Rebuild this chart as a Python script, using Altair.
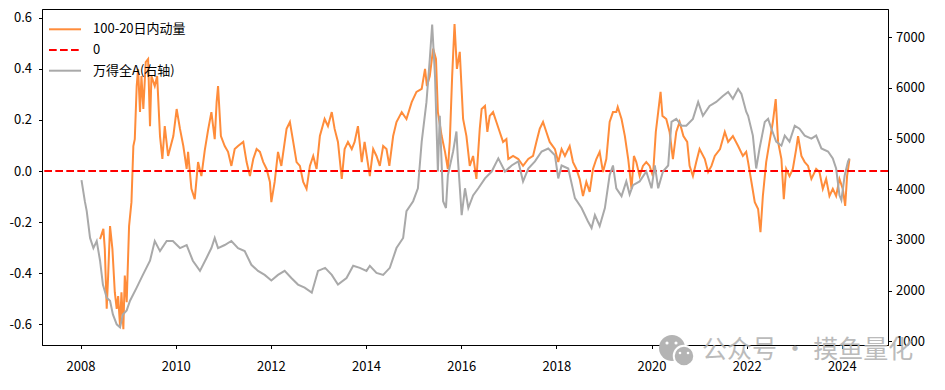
import altair as alt
import pandas as pd

FONT = "Noto Sans CJK SC"
ORANGE = "#ff8c3a"
GRAY = "#a9a9a9"
WM = "#b4b4b4"

# 万得全A index (right axis), decimal year
idx_year = [
    2008.02, 2008.09, 2008.13, 2008.20, 2008.27, 2008.34, 2008.41, 2008.47, 2008.55, 2008.62, 2008.68, 2008.76, 2008.83, 2008.89, 2008.97,
    2009.04, 2009.18, 2009.31, 2009.46, 2009.56, 2009.67, 2009.81, 2009.94,
    2010.09, 2010.23, 2010.36, 2010.51, 2010.65, 2010.75, 2010.82, 2010.89,
    2011.03, 2011.17, 2011.31, 2011.45, 2011.59, 2011.73, 2011.87,
    2012.01, 2012.15, 2012.29, 2012.43, 2012.57, 2012.71, 2012.86, 2012.99,
    2013.14, 2013.28, 2013.41, 2013.59, 2013.73, 2013.87,
    2014.01, 2014.08, 2014.22, 2014.36, 2014.50, 2014.64, 2014.78, 2014.85, 2014.99,
    2015.09, 2015.17, 2015.27, 2015.34, 2015.39, 2015.45, 2015.51, 2015.55, 2015.62, 2015.68, 2015.72, 2015.83, 2015.90, 2015.93,
    2016.01, 2016.08, 2016.15, 2016.25, 2016.36, 2016.50, 2016.64, 2016.78, 2016.92,
    2017.06, 2017.20, 2017.30, 2017.41, 2017.55, 2017.69, 2017.83, 2017.97,
    2018.04, 2018.11, 2018.25, 2018.39, 2018.53, 2018.66, 2018.74, 2018.81, 2018.91,
    2019.02, 2019.12, 2019.19, 2019.26, 2019.37, 2019.47, 2019.54, 2019.61, 2019.75, 2019.89,
    2020.00, 2020.07, 2020.14, 2020.24, 2020.35, 2020.42, 2020.52, 2020.63, 2020.73, 2020.87, 2020.98,
    2021.08, 2021.22, 2021.36, 2021.50, 2021.61, 2021.71, 2021.82, 2021.89, 2021.99,
    2022.03, 2022.13, 2022.20, 2022.27, 2022.38, 2022.45, 2022.52, 2022.62, 2022.73, 2022.80, 2022.90,
    2023.01, 2023.11, 2023.22, 2023.36, 2023.46, 2023.57, 2023.71, 2023.81, 2023.88, 2023.95, 2023.99,
    2024.06, 2024.13, 2024.16,
]
idx_value = [
    4180, 3765, 3570, 3040, 2840, 2980, 2590, 2120, 1860, 1800, 1530, 1335, 1275, 1530, 1610,
    1800, 2060, 2310, 2590, 2980, 2780, 2980, 2980,
    2840, 2900, 2590, 2390, 2650, 2840, 3040, 2840,
    2900, 2980, 2840, 2780, 2510, 2390, 2310,
    2200, 2310, 2390, 2250, 2120, 2060, 1960, 2390,
    2450, 2310, 2120, 2250, 2490, 2450,
    2390, 2490, 2350, 2310, 2450, 2840, 3040, 3570, 3765,
    4020, 4940, 5720, 6570, 7250, 6230, 4350, 5450, 3765, 3630, 4275, 4745, 5140, 4610,
    3490, 4020, 3630, 3880, 4020, 4215, 4350, 4610, 4350,
    4470, 4550, 4155, 4410, 4550, 4745, 4805, 4670,
    4215, 4470, 4410, 3825, 3630, 3375, 3235, 3490, 3275,
    3630, 4280, 4470, 4020, 3865, 4155, 3900, 4080, 4155, 4350,
    4020, 4470, 4020, 4350, 4470, 5330, 5390, 5255, 5255, 5390, 5725,
    5450, 5645, 5725, 5840, 5920, 5785, 5980, 5880, 5530,
    5450, 5060, 4410, 4805, 5330, 5390, 5195, 4940, 4860, 5060, 4940,
    5255, 5195, 5060, 5000, 5060, 4805, 4745, 4610, 4410, 3880, 3785,
    4275, 4550, 4610,
]

# 100-20日内动量 (left axis), decimal year
mom_year = [
    2008.41, 2008.48, 2008.51, 2008.55, 2008.58, 2008.62, 2008.67, 2008.72, 2008.76, 2008.79, 2008.83, 2008.86, 2008.90, 2008.93, 2008.97,
    2009.02, 2009.07, 2009.11, 2009.14, 2009.18, 2009.21, 2009.25, 2009.28, 2009.32, 2009.37, 2009.42, 2009.46, 2009.49, 2009.56, 2009.61, 2009.67, 2009.72, 2009.77, 2009.84, 2009.95,
    2010.02, 2010.09, 2010.16, 2010.23, 2010.26, 2010.33, 2010.40, 2010.47, 2010.54, 2010.61, 2010.68, 2010.75, 2010.82, 2010.86, 2010.89, 2010.95,
    2011.03, 2011.10, 2011.17, 2011.24, 2011.31, 2011.42, 2011.49, 2011.56, 2011.63, 2011.70, 2011.77, 2011.84, 2011.91, 2011.98,
    2012.01, 2012.08, 2012.15, 2012.22, 2012.33, 2012.40, 2012.47, 2012.54, 2012.61, 2012.68, 2012.75, 2012.82, 2012.89, 2012.96,
    2013.03, 2013.13, 2013.20, 2013.28, 2013.34, 2013.41, 2013.49, 2013.55, 2013.62, 2013.70, 2013.76, 2013.83, 2013.91, 2013.97,
    2014.08, 2014.15, 2014.22, 2014.29, 2014.36, 2014.43, 2014.49, 2014.57, 2014.64, 2014.75, 2014.85, 2014.96,
    2015.06, 2015.17, 2015.24, 2015.28, 2015.34, 2015.41, 2015.47, 2015.51, 2015.59, 2015.66, 2015.72, 2015.76, 2015.81, 2015.86, 2015.91, 2015.97,
    2016.04, 2016.11, 2016.18, 2016.25, 2016.32, 2016.39, 2016.43, 2016.50, 2016.55, 2016.60, 2016.67, 2016.74, 2016.81, 2016.88, 2016.95, 2016.99,
    2017.09, 2017.20, 2017.30, 2017.41, 2017.51, 2017.58, 2017.65, 2017.72, 2017.79, 2017.86, 2017.97,
    2018.04, 2018.11, 2018.18, 2018.28, 2018.35, 2018.42, 2018.49, 2018.56, 2018.63, 2018.70, 2018.77, 2018.84, 2018.91, 2018.98,
    2019.05, 2019.12, 2019.19, 2019.26, 2019.29, 2019.37, 2019.44, 2019.51, 2019.58, 2019.63, 2019.68, 2019.75, 2019.82, 2019.89, 2019.96,
    2020.03, 2020.09, 2020.14, 2020.19, 2020.23, 2020.31, 2020.38, 2020.45, 2020.52, 2020.59, 2020.67, 2020.75, 2020.80, 2020.87, 2020.94,
    2021.01, 2021.12, 2021.19, 2021.26, 2021.33, 2021.44, 2021.54, 2021.61, 2021.71, 2021.82, 2021.92, 2021.99,
    2022.03, 2022.10, 2022.17, 2022.24, 2022.29, 2022.34, 2022.41, 2022.48, 2022.55, 2022.61, 2022.66, 2022.73, 2022.78, 2022.83, 2022.90, 2022.97,
    2023.04, 2023.08, 2023.15, 2023.22, 2023.29, 2023.36, 2023.46, 2023.53, 2023.60, 2023.67, 2023.74, 2023.81, 2023.88, 2023.95,
    2024.02, 2024.07, 2024.11, 2024.16,
]
mom_value = [
    -0.267, -0.227, -0.306, -0.54, -0.41, -0.216, -0.306, -0.475, -0.54, -0.49, -0.608, -0.475, -0.62, -0.41, -0.514,
    -0.216, -0.122, 0.098, 0.125, 0.333, 0.40, 0.231, 0.372, 0.243, 0.427, 0.439, 0.176, 0.372, 0.333, 0.372, 0.137, 0.047, 0.176, 0.059, 0.137,
    0.243, 0.165, 0.098, 0.008, 0.075, -0.07, -0.11, 0.035, -0.02, 0.08, 0.16, 0.231, 0.125, 0.27, 0.333, 0.137,
    0.098, 0.075, 0.02, 0.086, 0.098, 0.114, 0.035, -0.02, 0.047, 0.086, 0.075, 0.035, 0.008, -0.043,
    -0.122, -0.043, 0.075, 0.02, 0.165, 0.192, 0.114, 0.035, 0.02, -0.043, -0.07, 0.02, 0.059, 0.008,
    0.137, 0.204, 0.176, 0.231, 0.165, 0.114, -0.031, 0.086, 0.114, 0.086, 0.114, 0.176, 0.035, 0.114,
    -0.02, 0.086, 0.059, 0.02, 0.098, 0.086, 0.02, 0.137, 0.192, 0.231, 0.204, 0.27,
    0.31, 0.322, 0.40, 0.333, 0.372, 0.48, 0.439, 0.231, 0.137, 0.075, 0.008, 0.114, 0.372, 0.576, 0.40, 0.467,
    0.204, 0.137, 0.02, 0.059, -0.031, 0.165, 0.243, 0.255, 0.153, 0.216, 0.231, 0.192, 0.153, 0.114, 0.125, 0.047,
    0.059, 0.047, 0.02, 0.047, 0.059, 0.114, 0.165, 0.192, 0.153, 0.114, 0.086,
    0.035, 0.086, 0.059, 0.098, 0.035, 0.008, -0.031, -0.098, -0.043, -0.082, 0.008, 0.047, 0.075, -0.004,
    0.047, 0.192, 0.231, 0.231, 0.251, 0.204, 0.137, 0.047, -0.07, 0.059, 0.035, -0.02, 0.02, 0.035, 0.02,
    -0.02, 0.153, 0.231, 0.31, 0.216, 0.204, 0.153, 0.047, 0.153, 0.192, 0.137, 0.114, 0.02, -0.02, 0.035,
    0.086, 0.047, -0.004, 0.02, 0.059, 0.086, 0.153, 0.114, 0.137, 0.098, 0.059, 0.075,
    0.035, -0.043, -0.122, -0.149, -0.24, -0.098, 0.035, 0.114, 0.192, 0.282, 0.114, 0.047, -0.11, 0.008, -0.02, 0.008,
    0.086, 0.137, 0.059, 0.035, 0.02, -0.031, 0.008, -0.004, -0.07, -0.031, -0.098, -0.07, -0.098, -0.031,
    -0.07, -0.137, -0.02, 0.047,
]

assert len(idx_year) == len(idx_value)
assert len(mom_year) == len(mom_value)

legend_labels = ["100-20日内动量", "0", "万得全A(右轴)"]
legend_colors = [ORANGE, "red", GRAY]
x_ticks = [2008, 2010, 2012, 2014, 2016, 2018, 2020, 2022, 2024]
left_ticks = [-0.6, -0.4, -0.2, 0.0, 0.2, 0.4, 0.6]
right_ticks = [1000, 2000, 3000, 4000, 5000, 6000, 7000]
watermark_text = "公众号 · 摸鱼量化"

LW = 2
DASH = [7.7, 3.3]

mom_df = pd.DataFrame({"year": mom_year, "value": mom_value})
idx_df = pd.DataFrame({"year": idx_year, "index": idx_value})

x_enc = alt.X(
    "year:Q",
    scale=alt.Scale(domain=[2007.19, 2024.97], nice=False, zero=False),
    axis=alt.Axis(values=x_ticks, format="d", title=None, labelPadding=12),
)

orange = alt.Chart(mom_df).mark_line(color=ORANGE, strokeWidth=LW).encode(
    x=x_enc,
    y=alt.Y(
        "value:Q",
        scale=alt.Scale(domain=[-0.682, 0.635], nice=False, zero=False),
        axis=alt.Axis(
            values=left_ticks, title=None, orient="left", labelPadding=7,
            labelExpr="replace(format(datum.value, '.1f'), '\u2212', '-')",
        ),
    ),
)
zero = alt.Chart(pd.DataFrame({"value": [0.0]})).mark_rule(
    color="red", strokeWidth=LW, strokeDash=DASH
).encode(y="value:Q")
left = alt.layer(orange, zero)

gray = alt.Chart(idx_df).mark_line(color=GRAY, strokeWidth=LW).encode(
    x=x_enc,
    y=alt.Y(
        "index:Q",
        scale=alt.Scale(domain=[927, 7558], nice=False, zero=False),
        axis=alt.Axis(values=right_ticks, format="d", title=None, orient="right", labelPadding=4),
    ),
)

# manual legend (top-left, no frame)
legend_layers = []
for i, (lab, col) in enumerate(zip(legend_labels, legend_colors)):
    yy = 20.3 + 20.7 * i
    src = pd.DataFrame({"label": [lab]})
    kw = {"strokeDash": DASH} if i == 1 else {}
    legend_layers.append(
        alt.Chart(src).mark_rule(color=col, strokeWidth=LW, **kw).encode(
            x=alt.value(7), x2=alt.value(39), y=alt.value(yy)
        )
    )
    legend_layers.append(
        alt.Chart(src).mark_text(
            align="left", baseline="middle", font=FONT, fontSize=13, color="black"
        ).encode(x=alt.value(51), y=alt.value(yy), text="label:N")
    )

# watermark
wm_src = pd.DataFrame({"label": [watermark_text]})
wm_layers = [
    alt.Chart(wm_src).mark_point(shape="circle", filled=True, size=676, color=WM, opacity=1).encode(
        x=alt.value(630), y=alt.value(339)
    ),
    alt.Chart(wm_src).mark_point(
        shape="circle", filled=True, size=420, fill=WM, stroke="white", strokeWidth=2, opacity=1
    ).encode(x=alt.value(642), y=alt.value(347)),
    alt.Chart(wm_src).mark_point(shape="circle", filled=True, size=10, color="white", opacity=1).encode(
        x=alt.value(625), y=alt.value(334)
    ),
    alt.Chart(wm_src).mark_point(shape="circle", filled=True, size=10, color="white", opacity=1).encode(
        x=alt.value(634), y=alt.value(334)
    ),
    alt.Chart(wm_src).mark_point(shape="circle", filled=True, size=7, color="white", opacity=1).encode(
        x=alt.value(638), y=alt.value(344)
    ),
    alt.Chart(wm_src).mark_point(shape="circle", filled=True, size=7, color="white", opacity=1).encode(
        x=alt.value(646), y=alt.value(344)
    ),
    alt.Chart(wm_src).mark_text(
        align="left", baseline="middle", font=FONT, fontSize=25, color=WM, opacity=0.9
    ).encode(x=alt.value(660), y=alt.value(341), text="label:N"),
]

chart = (
    alt.layer(left, gray, *legend_layers, *wm_layers)
    .resolve_scale(y="independent")
    .properties(
        width=846,
        height=336,
        autosize=alt.AutoSizeParams(type="none"),
        padding={"left": 34, "top": 1, "right": 40, "bottom": 29},
    )
    .configure_view(stroke="black", strokeWidth=1)
    .configure_axis(
        labelFont=FONT, labelFontSize=13, labelColor="black", tickColor="black",
        domainColor="black", tickSize=3.5, grid=False, domainWidth=1, tickWidth=1,
    )
)

chart.save("out.html", embed_options={"renderer": "svg", "actions": False})
